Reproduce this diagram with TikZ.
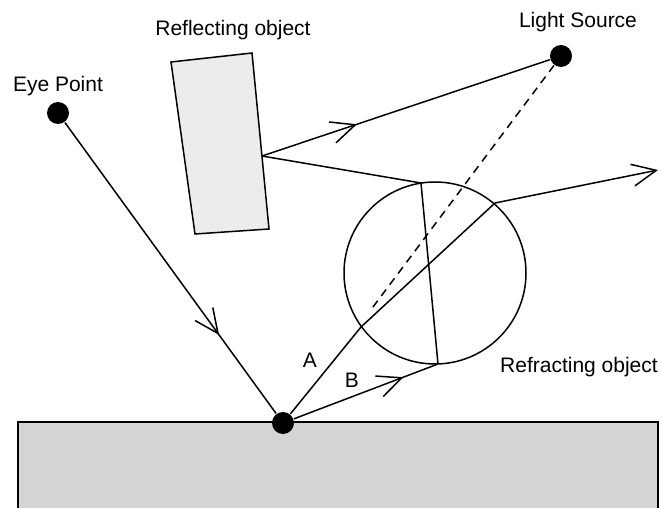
\documentclass[tikz,border=0pt]{standalone}
\usepackage{fontspec}
\setmainfont{Liberation Sans}
\usetikzlibrary{arrows.meta,decorations.markings}
\definecolor{groundgray}{RGB}{212,212,212}
\definecolor{reflgray}{RGB}{236,236,236}
\begin{document}
\begin{tikzpicture}[x=1pt,y=-1pt,line width=1.5pt,
  dot/.style={circle,fill=black,inner sep=0pt,minimum size=22pt},
  lbl/.style={font=\fontsize{21}{25}\selectfont,inner sep=0pt},
  barbtip/.style={-{Straight Barb[length=24pt,width=22pt]}},
  midarrow/.style={postaction={decorate},decoration={markings,
    mark=at position #1 with {\arrow{Straight Barb[length=24pt,width=22pt]}}}}]
\clip (0,0) rectangle (662,508);
% objects
\draw[fill=groundgray] (18,422) rectangle (658,530);
\draw[fill=reflgray] (171,62) -- (252,53) -- (269,229) -- (195,234) -- cycle;
\draw (435,273) circle[radius=91pt];
% points
\node[dot] (eye) at (58,113) {};
\node[dot] (light) at (561,56) {};
\node[dot] (P) at (283,423) {};
\coordinate (R) at (262,156);
\coordinate (C1) at (421,183);
\coordinate (C2) at (438,364);
\coordinate (A1) at (361,327);
\coordinate (A2) at (495,203);
\coordinate (Aend) at (658,170);
\coordinate (dashend) at (370,311);
% rays
\draw[midarrow=0.73] (eye) -- (P);
\draw[midarrow=0.33] (R) -- (light);
\draw (R) -- (C1) -- (C2);
\draw[midarrow=0.76] (P) -- (C2);
\draw (P) -- (A1) -- (A2);
\draw[barbtip] (A2) -- (Aend);
\draw[dash pattern=on 8pt off 6pt] (light) -- (dashend);
% labels
\node[lbl] (leye) at (58,86) {Eye Point};
\node[lbl] (lrefl) at (233,30) {Reflecting object};
\node[lbl] (llight) at (578,22) {Light Source};
\node[lbl] (lrefr) at (579,367) {Refracting object};
\node[lbl] (la) at (310,360) {A};
\node[lbl] (lb) at (352,380) {B};
\end{tikzpicture}
\end{document}
